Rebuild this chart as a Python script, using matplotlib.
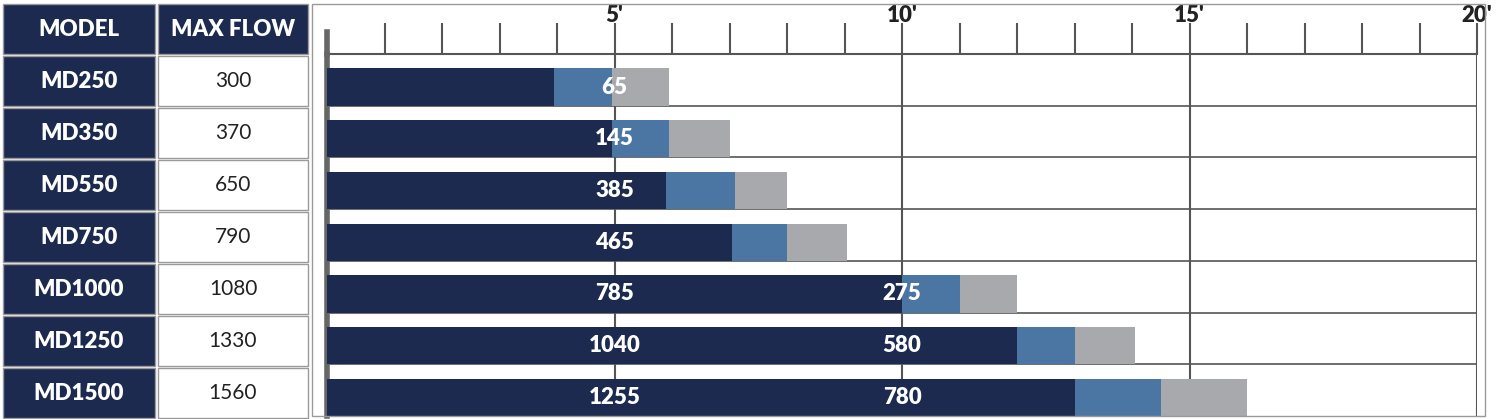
import matplotlib
matplotlib.use("Agg")
import matplotlib.pyplot as plt
from matplotlib.patches import Rectangle

models = ["MD250", "MD350", "MD550", "MD750", "MD1000", "MD1250", "MD1500"]
max_flow = ["300", "370", "650", "790", "1080", "1330", "1560"]
dark_end = [3.95, 4.95, 5.9, 7.05, 10.0, 12.0, 13.0]
blue_end = [4.95, 5.95, 7.1, 8.0, 11.0, 13.0, 14.5]
grey_end = [5.95, 7.0, 8.0, 9.05, 12.0, 14.05, 16.0]
label5 = ["65", "145", "385", "465", "785", "1040", "1255"]
label10 = ["", "", "", "", "275", "580", "780"]
tick_labels = {5: "5'", 10: "10'", 15: "15'", 20: "20'"}

W, H = 1500, 419
NAVY = "#1b2a4e"; BLUE = "#4b76a3"; GREY = "#a8a9ac"; LINE = "#555555"
plt.rcParams['font.family'] = ['Lato', 'DejaVu Sans']

fig = plt.figure(figsize=(15, 4.19), dpi=100)

def fx(px): return px / W
def fy(py): return 1 - py / H

row_tops = [56 + 52 * i for i in range(7)]
def cell(x0, x1, y0, y1, fc, text, tc):
    fig.add_artist(Rectangle((fx(x0), fy(y1)), fx(x1 - x0), (y1 - y0) / H,
                             facecolor=fc, edgecolor="#9a9a9a", lw=1.0, transform=fig.transFigure))
    fig.text(fx((x0 + x1) / 2), fy((y0 + y1) / 2), text, color=tc, ha="center", va="center",
             fontsize=16 if tc == "white" else 15, fontweight="heavy" if tc == "white" else "normal")

cell(3, 155, 4, 54, NAVY, "MODEL", "white")
cell(158, 308, 4, 54, NAVY, "MAX FLOW", "white")
for i in range(7):
    t = row_tops[i]
    cell(3, 155, t, t + 50, NAVY, models[i], "white")
    cell(158, 308, t, t + 50, "white", max_flow[i], "#222222")
fig.add_artist(Rectangle((fx(312), fy(416)), fx(1485 - 312), 412 / H, facecolor="none",
                         edgecolor="#9a9a9a", lw=1.0, transform=fig.transFigure))

ax = fig.add_axes([fx(327), fy(416), fx(1477 - 327), (416 - 54) / H])
ax.set_xlim(0, 20)
ax.set_ylim(7, 0)
y = [i + 0.64 for i in range(7)]
h = 0.72
ax.barh(y, grey_end, height=h, color=GREY, zorder=2)
ax.barh(y, blue_end, height=h, color=BLUE, zorder=3)
ax.barh(y, dark_end, height=h, color=NAVY, zorder=4)
for i in range(7):
    ax.text(5, y[i], label5[i], color="white", ha="center", va="center", fontsize=16, fontweight="heavy", zorder=5)
    if label10[i]:
        ax.text(10, y[i], label10[i], color="white", ha="center", va="center", fontsize=16, fontweight="heavy", zorder=5)
for v in [5, 10, 15, 20]:
    ax.axvline(v, color=LINE, lw=1.5, zorder=1)
for r in range(1, 7):
    ax.axhline(r, color=LINE, lw=1.2, zorder=1)
for s in ["right", "bottom"]:
    ax.spines[s].set_visible(False)
ax.spines["top"].set_color(LINE); ax.spines["top"].set_linewidth(1.5)
ax.spines["left"].set_color("#666666"); ax.spines["left"].set_linewidth(4)
ax.xaxis.tick_top()
ax.set_xticks(list(range(1, 21)))
ax.set_xticklabels([tick_labels.get(v, "") for v in range(1, 21)], fontsize=16, fontweight="heavy", color="#222222")
ax.tick_params(axis="x", direction="out", length=22, width=1.5, color=LINE, pad=-2)
ax.set_yticks([])
fig.add_artist(plt.Line2D([fx(327), fx(327)], [fy(54), fy(32)], color="#666666", lw=4, transform=fig.transFigure))

fig.savefig("out.png", dpi=100)
